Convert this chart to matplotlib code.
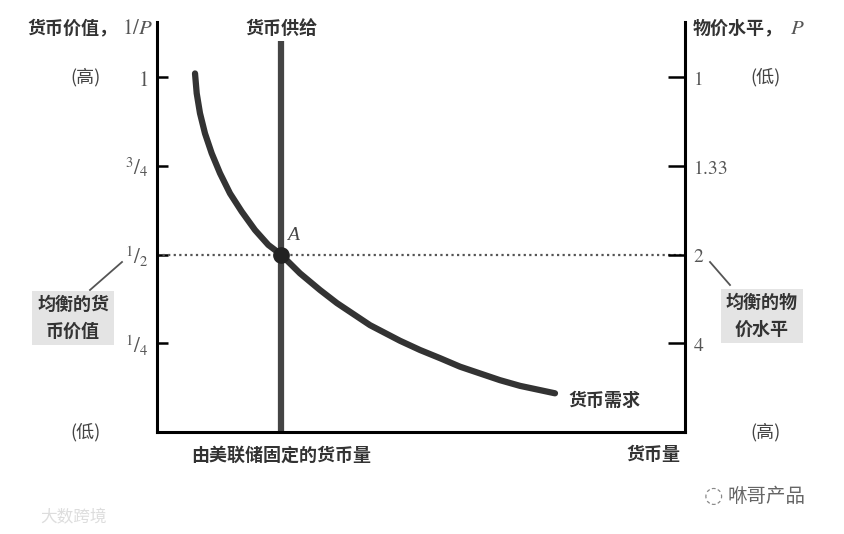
import matplotlib
matplotlib.use('Agg')
import matplotlib.pyplot as plt
import numpy as np

plt.rcParams['font.family'] = ['Noto Sans CJK SC', 'DejaVu Sans']
plt.rcParams['mathtext.fontset'] = 'stix'

# money demand curve (quantity, value of money 1/P)
demand_q = [0.720, 0.752, 0.814, 0.909, 1.036, 1.193, 1.383, 1.604, 1.856, 2.108, 2.348, 2.708,
            3.087, 3.409, 4.034, 4.602, 4.981, 5.360, 5.739, 6.117, 6.496, 6.875, 7.254, 7.538]
demand_v = [1.010, 0.954, 0.898, 0.841, 0.785, 0.729, 0.672, 0.621, 0.569, 0.527, 0.500, 0.447,
            0.400, 0.363, 0.301, 0.257, 0.231, 0.208, 0.184, 0.165, 0.146, 0.130, 0.118, 0.109]

supply_q = 2.35          # fixed by the Fed
supply_top = 1.10
eq_value = 0.5

value_ticks = [1.0, 0.75, 0.5, 0.25]
value_labels = [r'$1$', r'$^{3}/_{4}$', r'$^{1}/_{2}$', r'$^{1}/_{4}$']
price_labels = [r'$1$', r'$1.33$', r'$2$', r'$4$']

W, H = 844, 534
fig = plt.figure(figsize=(W / 100, H / 100), dpi=100)
ax = fig.add_axes([157 / W, 1 - 432 / H, (685 - 157) / W, (432 - 22) / H])
ax.set_xlim(0, 10)
ax.set_ylim(0, (432 - 22) / 355)

def ftxt(px, py, s, **kw):
    fig.text(px / W, 1 - py / H, s, **kw)

# spines
for side in ['left', 'right', 'bottom']:
    ax.spines[side].set_linewidth(2.2)
    ax.spines[side].set_color('black')
ax.spines['top'].set_visible(False)

ax.set_xticks([])
ax.set_yticks(value_ticks)
ax.set_yticklabels(value_labels, fontsize=15, color='#555555')
ax.tick_params(axis='y', direction='in', length=8, width=1.8, pad=6, left=True, right=False)

ax2 = ax.twinx()
ax2.set_ylim(ax.get_ylim())
ax2.set_yticks(value_ticks)
ax2.set_yticklabels(price_labels, fontsize=14, color='#555555')
ax2.tick_params(axis='y', direction='in', length=12, width=1.8, pad=6)
for side in ['left', 'right', 'bottom', 'top']:
    ax2.spines[side].set_visible(False)

# equilibrium dotted line
ax.plot([0, 10], [eq_value, eq_value], linestyle=(0, (1, 1.5)), color='#555555', lw=1.6)

# supply and demand
ax.plot([supply_q, supply_q], [0, supply_top], color='#444444', lw=4.5, solid_capstyle='butt')
ax.plot(demand_q, demand_v, color='#333333', lw=4.5, solid_capstyle='round', solid_joinstyle='round')
ax.plot([supply_q], [eq_value], 'o', color='#222222', ms=11)
ax.text(supply_q + 0.12, eq_value + 0.03, 'A', fontsize=14, style='italic', family='Liberation Serif',
        color='#444444', va='bottom')

txt = dict(fontsize=13, color='#333333', fontweight='bold')
ftxt(27, 28, '货币价值，', ha='left', va='center', **txt)
ftxt(153, 28, r'$1/P$', ha='right', va='center', fontsize=15, color='#555555')
ftxt(281, 28, '货币供给', ha='center', va='center', **txt)
ftxt(693, 28, '物价水平，', ha='left', va='center', **txt)
ftxt(790, 28, r'$P$', ha='left', va='center', fontsize=15, color='#555555')

small = dict(fontsize=13, color='#444444', ha='center', va='center')
ftxt(85, 77, '(高)', **small)
ftxt(85, 432, '(低)', **small)
ftxt(765, 77, '(低)', **small)
ftxt(765, 432, '(高)', **small)

box = dict(boxstyle='square,pad=0.25', facecolor='#e4e4e4', edgecolor='none')
ftxt(73, 318, '均衡的货\n币价值', ha='center', va='center', linespacing=1.5, bbox=box, **txt)
ftxt(762, 316, '均衡的物\n价水平', ha='center', va='center', linespacing=1.5, bbox=box, **txt)

fig.add_artist(plt.Line2D([90 / W, 122 / W], [1 - 290 / H, 1 - 262 / H], color='#555555', lw=1.3))
fig.add_artist(plt.Line2D([710 / W, 730 / W], [1 - 262 / H, 1 - 285 / H], color='#555555', lw=1.3))

ax.text(demand_q[-1] + 0.25, demand_v[-1] - 0.02, '货币需求', ha='left', va='center', **txt)
ftxt(281, 455, '由美联储固定的货币量', ha='center', va='center', **txt)
ftxt(680, 455, '货币量', ha='right', va='center', **txt)

# watermarks
ftxt(728, 496, '咻哥产品', ha='left', va='center', fontsize=14, color='#666666')
ftxt(713, 496, '◌', ha='center', va='center', fontsize=16, color='#888888', family='DejaVu Sans')
ftxt(40, 518, '大数跨境', ha='left', va='center', fontsize=12, color='#dddddd')

fig.savefig('out.png', dpi=100)
